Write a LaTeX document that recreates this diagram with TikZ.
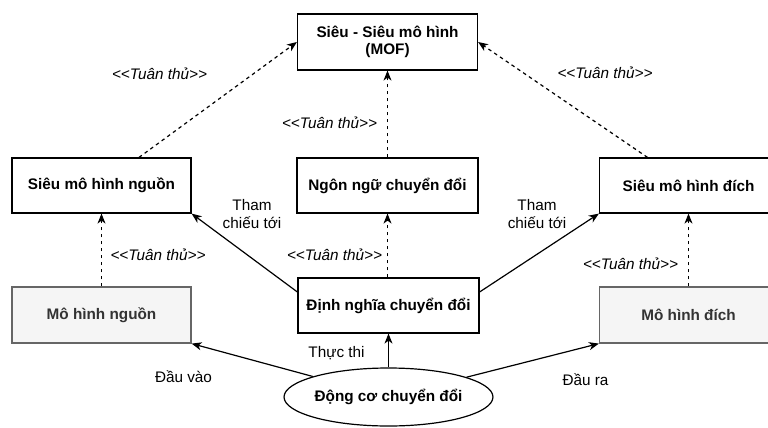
\documentclass[tikz,border=0pt]{standalone}
\usepackage{fontspec}
\setmainfont{Liberation Sans}
\usetikzlibrary{arrows.meta,shapes.geometric}

\definecolor{modelfill}{HTML}{F5F5F5}
\definecolor{modeldraw}{HTML}{666666}
\definecolor{modeltext}{HTML}{333333}

% stereotype text, with the angle brackets kept apart so no guillemet ligature forms
\newcommand{\conformtext}{<\kern0pt<Tuân thủ>\kern0pt>}

\tikzset{
  every node/.style={font=\fontsize{15.3}{17.5}\selectfont},
  metabox/.style={draw=black, line width=1.2pt, fill=white, inner sep=0pt,
    font=\fontsize{15.3}{17.5}\selectfont\bfseries, align=center},
  modelbox/.style={draw=modeldraw, line width=1.2pt, fill=modelfill, inner sep=0pt,
    text=modeltext, font=\fontsize{15.3}{17.5}\selectfont\bfseries},
  enginenode/.style={ellipse, draw=black, line width=1.2pt, fill=white, inner sep=0pt,
    minimum width=176pt, minimum height=58pt,
    font=\fontsize{15.3}{17.5}\selectfont\bfseries},
  conform/.style={line width=1.2pt, dash pattern=on 3.5pt off 3.5pt,
    -{Stealth[length=10pt,width=8pt,inset=3pt]}},
  flow/.style={line width=1.2pt, -{Stealth[length=10pt,width=8pt,inset=3pt]}},
  stereo/.style={anchor=base, inner sep=0pt, font=\fontsize{15.3}{17.5}\selectfont\itshape},
  edgetext/.style={anchor=base, inner sep=0pt},
}

\begin{document}
\begin{tikzpicture}[x=1pt, y=-1pt]
  \useasboundingbox (0,0) rectangle (768,428);
  \fill[white] (0,0) rectangle (768,428);
  \clip (0,0) rectangle (768,428);

  % meta-metamodel, metamodels and transformation language
  \node[metabox, minimum width=180pt, minimum height=56pt] (mof) at (387.5,42)
    {Siêu - Siêu mô hình\\(MOF)};
  \node[metabox, minimum width=179pt, minimum height=55pt] (srcmeta) at (101.5,185.5)
    {Siêu mô hình nguồn};
  \node[metabox, minimum width=181pt, minimum height=55pt] (lang) at (387.5,185.5)
    {Ngôn ngữ chuyển đổi};
  \node[metabox, minimum width=178pt, minimum height=55pt] (tgtmeta) at (688.5,185.5)
    {Siêu mô hình đích};

  % models and transformation definition
  \node[modelbox, minimum width=179pt, minimum height=56pt] (srcmodel) at (101.5,315)
    {Mô hình nguồn};
  \node[metabox, minimum width=181pt, minimum height=55pt] (def) at (388.5,305.5)
    {Định nghĩa chuyển đổi};
  \node[modelbox, minimum width=178pt, minimum height=56pt] (tgtmodel) at (688.5,315)
    {Mô hình đích};

  % transformation engine
  \node[enginenode] (engine) at (388.5,397) {Động cơ chuyển đổi};

  % conformance relations
  \draw[conform] ([xshift=37.5pt]srcmeta.north) -- (mof.west);
  \draw[conform] ([xshift=-41pt]tgtmeta.north) -- (mof.east);
  \draw[conform] (lang.north) -- (lang.north |- mof.south);
  \draw[conform] (def.north -| lang.north) -- (lang.south);
  \draw[conform] (srcmodel.north) -- (srcmeta.south);
  \draw[conform] (tgtmodel.north) -- (tgtmeta.south);

  % references, execution, input and output
  \draw[flow] ([yshift=13.5pt]def.west) -- (srcmeta.south east);
  \draw[flow] ([yshift=13.5pt]def.east) -- (tgtmeta.south west);
  \draw[flow] (engine.north) -- (engine.north |- def.south);
  \draw[flow] (engine) -- (srcmodel.south east);
  \draw[flow] (engine) -- (tgtmodel.south west);

  % labels
  \node[stereo] (c1) at (159.5,79.5) {\conformtext};
  \node[stereo] (c2) at (605,78.5) {\conformtext};
  \node[stereo] (c3) at (329.5,128.5) {\conformtext};
  \node[stereo] (c4) at (334.5,260.5) {\conformtext};
  \node[stereo] (c5) at (158,260.5) {\conformtext};
  \node[stereo] (c6) at (630.5,269.5) {\conformtext};

  \node[align=center, inner sep=0pt] (r1) at (252,214) {Tham\\chiếu tới};
  \node[align=center, inner sep=0pt] (r2) at (537,214) {Tham\\chiếu tới};

  \node[edgetext] (run) at (336.5,357.5) {Thực thi};
  \node[edgetext] (in) at (183.5,382.5) {Đầu vào};
  \node[edgetext] (out) at (585.5,385.5) {Đầu ra};
\end{tikzpicture}
\end{document}
